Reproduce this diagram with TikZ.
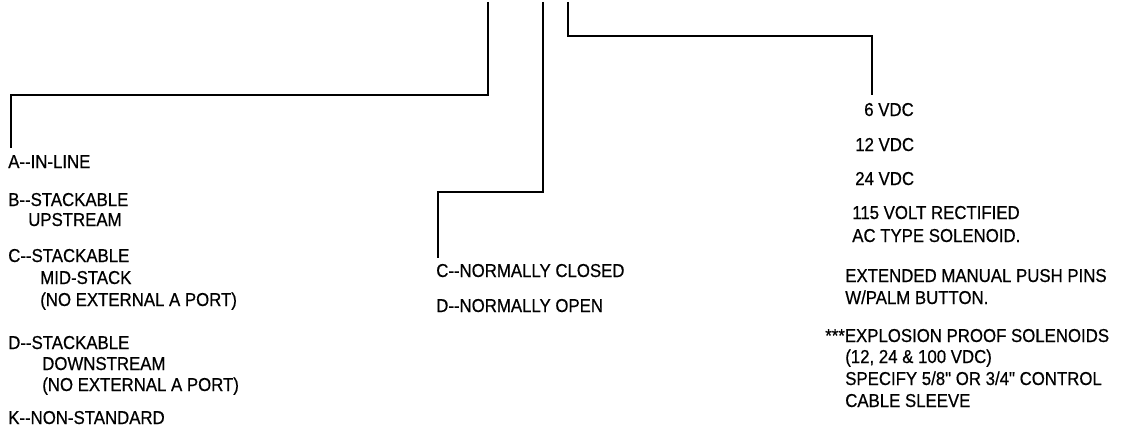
\documentclass[tikz,border=0pt]{standalone}
\usepackage{fontspec}
\newfontfamily\labfont{Liberation Sans}[FakeStretch=0.9,FakeBold=0.6]
\newcommand\dd{-\kern0pt-}
\begin{document}
\begin{tikzpicture}[x=0.75pt,y=-0.75pt,
  conn/.style={draw=black,line width=1.4pt},
  lab/.style={anchor=base west,inner sep=0pt,font=\labfont\fontsize{14}{16}\selectfont}]
\useasboundingbox (0,0) rectangle (1137,435);
% left column
\node[lab] (nA) at (8,168) {A\dd IN-LINE};
\node[lab] (nB) at (8,206) {B\dd STACKABLE};
\node[lab] (nB2) at (28,226) {UPSTREAM};
\node[lab] (nC) at (8,262) {C\dd STACKABLE};
\node[lab] (nC2) at (40,284) {MID-STACK};
\node[lab] (nC3) at (40,306) {(NO EXTERNAL A PORT)};
\node[lab] (nD) at (8,349) {D\dd STACKABLE};
\node[lab] (nD2) at (42,370) {DOWNSTREAM};
\node[lab] (nD3) at (42,391) {(NO EXTERNAL A PORT)};
\node[lab] (nK) at (8,424) {K\dd NON-STANDARD};
% middle column
\node[lab] (mC) at (436,277) {C\dd NORMALLY CLOSED};
\node[lab] (mD) at (436,312) {D\dd NORMALLY OPEN};
% right column
\node[lab] (r6) at (864,116) {6 VDC};
\node[lab] (r12) at (855,151) {12 VDC};
\node[lab] (r24) at (855,185) {24 VDC};
\node[lab] (r115) at (852,219) {115 VOLT RECTIFIED};
\node[lab] (rAC) at (852,242) {AC TYPE SOLENOID.};
\node[lab] (rEX) at (845,282) {EXTENDED MANUAL PUSH PINS};
\node[lab] (rW) at (845,304) {W/PALM BUTTON.};
\node[lab] (rXP) at (825,342) {***EXPLOSION PROOF SOLENOIDS};
\node[lab] (rV) at (845,363) {(12, 24 \& 100 VDC)};
\node[lab] (rSP) at (845,385) {SPECIFY 5/8" OR 3/4" CONTROL};
\node[lab] (rCB) at (845,407) {CABLE SLEEVE};
% connectors
\coordinate (t1) at (488,2);
\coordinate (t2) at (543,2);
\coordinate (t3) at (568,2);
\draw[conn] (t1) -- (488,95) -| ([xshift=2pt,yshift=5pt]nA.north west);
\draw[conn] (t2) -- (543,192) -| ([xshift=1.5pt,yshift=4pt]mC.north west);
\draw[conn] (t3) -- (568,36) -| ([xshift=6pt,yshift=6pt]r6.north west);
\end{tikzpicture}
\end{document}
